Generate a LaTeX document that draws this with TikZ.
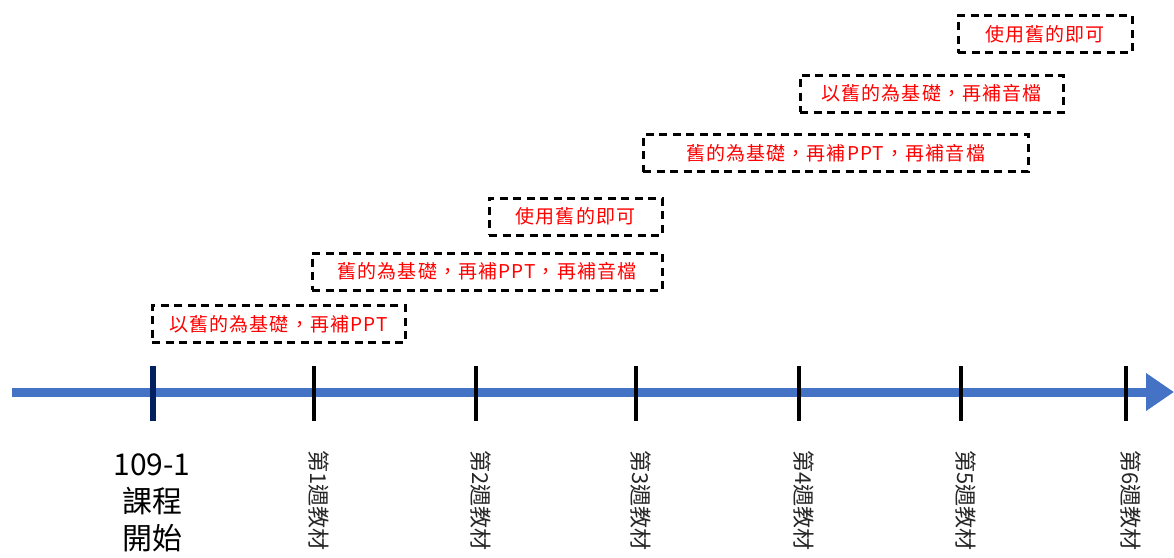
\documentclass[tikz,border=0pt]{standalone}
\usepackage{fontspec}
\setmainfont{Noto Sans CJK TC}
\usetikzlibrary{arrows.meta}
\definecolor{axisblue}{HTML}{4472C4}
\definecolor{navy}{HTML}{002060}
\definecolor{txtred}{HTML}{FF0000}
\tikzset{
  notebox/.style={draw=black, line width=3pt, dash pattern=on 8pt off 5.5pt,
    text=txtred, font=\fontsize{19}{22}\selectfont\addfontfeatures{LetterSpace=6}, minimum height=37pt, inner sep=0pt},
  tickline/.style={line width=3.5pt, black},
  weeklabel/.style={rotate=-90, anchor=west, inner sep=0pt, text=black!85,
    font=\fontsize{22}{24}\selectfont},
}
\begin{document}
\begin{tikzpicture}[x=1pt,y=-1pt]
\useasboundingbox (0,0) rectangle (1174,557);
% axis
\coordinate (as) at (12,392);
\coordinate (ae) at (1174,392);
\draw[axisblue, line width=9pt, -{Triangle[length=28pt,width=36pt]}] (as) -- (ae);
% ticks
\coordinate (t0a) at (153,366); \coordinate (t0b) at (153,421);
\draw[navy, line width=5.5pt] (t0a) -- (t0b);
\foreach \x [count=\i] in {314,476,636,799,961,1126}{
  \coordinate (t\i a) at (\x,366); \coordinate (t\i b) at (\x,421);
  \draw[tickline] (t\i a) -- (t\i b);
  \node[weeklabel] (w\i) at (\x+5,450) {第\i 週教材};
}
% start label
\node[align=center, font=\fontsize{30}{37}\selectfont, text=black] (start) at (152,503) {109-1\\課程\\開始};
% boxes
\node[notebox, minimum width=253pt] (b1) at (278.5,324) {以舊的為基礎，再補PPT};
\node[notebox, minimum width=350pt] (b2) at (487,271.5) {舊的為基礎，再補PPT，再補音檔};
\node[notebox, minimum width=173pt] (b3) at (575.5,216.5) {使用舊的即可};
\node[notebox, minimum width=385pt] (b4) at (835.5,153) {舊的為基礎，再補PPT，再補音檔};
\node[notebox, minimum width=263pt] (b5) at (931.5,93.5) {以舊的為基礎，再補音檔};
\node[notebox, minimum width=174pt] (b6) at (1045,34) {使用舊的即可};
\end{tikzpicture}
\end{document}
